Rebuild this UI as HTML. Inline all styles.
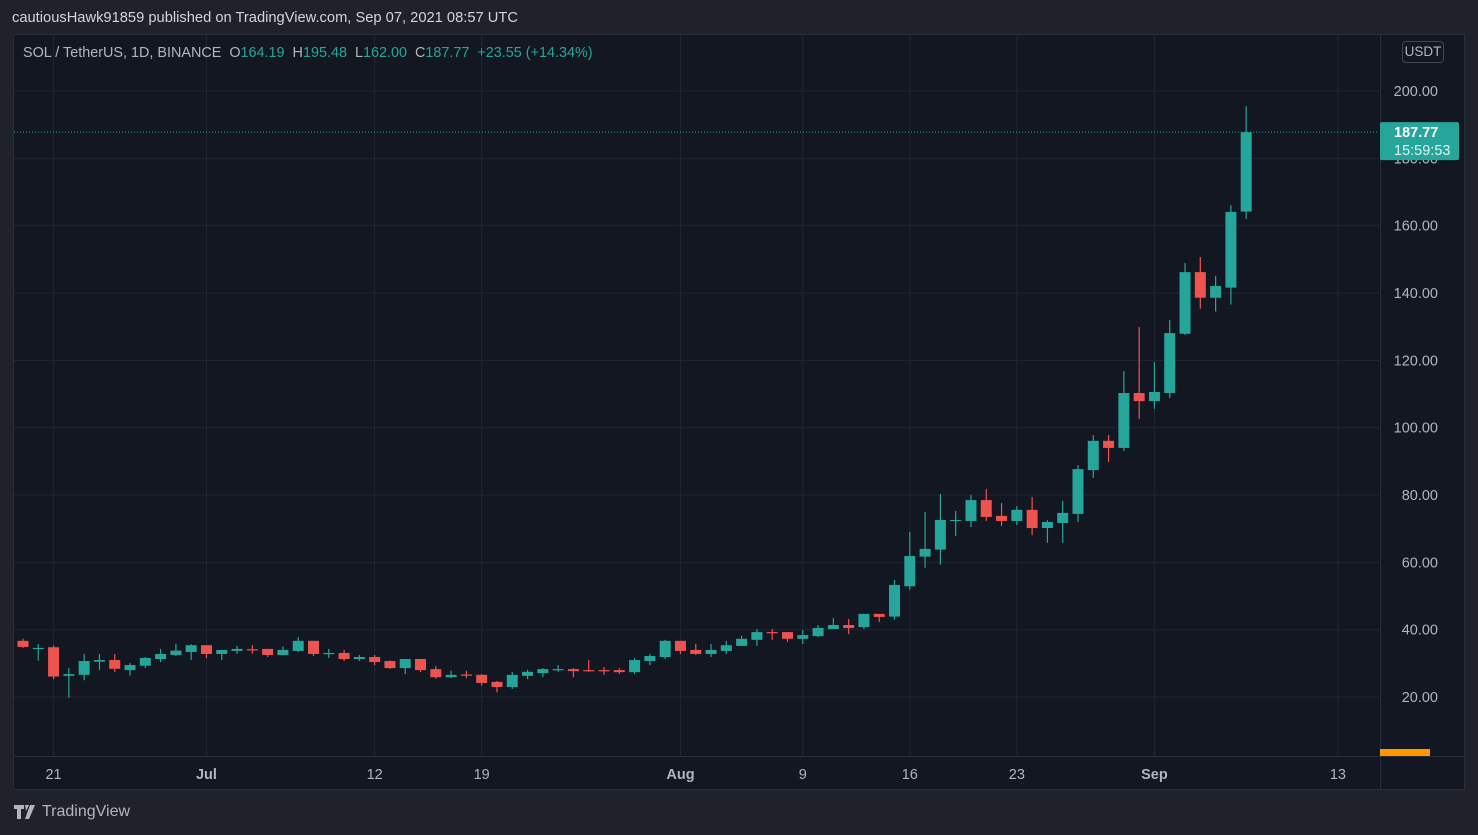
<!DOCTYPE html>
<html><head><meta charset="utf-8"><style>
html,body{margin:0;padding:0;background:#1f222b;width:1478px;height:835px;overflow:hidden;font-family:"Liberation Sans",sans-serif;}
#hdr{position:absolute;left:12px;top:10px;font-size:14.7px;color:#d1d4dc;white-space:nowrap;}
#pane{position:absolute;left:13px;top:34px;width:1452px;height:756px;background:#131722;border:1px solid #2a2e39;box-sizing:border-box;}
#legend{position:absolute;left:23px;top:45px;font-size:14.4px;color:#b2b5be;white-space:nowrap;}
#legend .v{color:#26a69a;}
#usdt{position:absolute;left:1402px;top:41px;width:42px;height:22px;border:1px solid #434651;border-radius:4px;box-sizing:border-box;color:#b2b5be;font-size:13.5px;text-align:center;line-height:20px;}
#logo{position:absolute;left:14px;top:803px;font-size:16px;color:#b2b5be;display:flex;align-items:center;gap:4px;}
svg{position:absolute;left:0;top:0;}
</style></head><body>
<div id="hdr">cautiousHawk91859 published on TradingView.com, Sep 07, 2021 08:57 UTC</div>
<div id="pane"></div>
<svg id="chart" width="1478" height="835"></svg>
<div id="legend">SOL / TetherUS, 1D, BINANCE&nbsp; O<span class="v">164.19</span>&nbsp; H<span class="v">195.48</span>&nbsp; L<span class="v">162.00</span>&nbsp; C<span class="v">187.77</span>&nbsp; <span class="v">+23.55 (+14.34%)</span></div>
<div id="usdt">USDT</div>
<div id="logo"><svg width="24" height="14" style="position:static" viewBox="0 0 24 14"><path d="M0 0h10v4H7v10H3V4H0z M11 0h4l-3 6z M16 0h5l-6 14h-4z" fill="#b2b5be"/></svg><span>TradingView</span></div>
<script>
const opens  = [39.5,36.7,34.4,34.8,26.3,26.6,30.5,31.0,28.0,29.3,31.3,32.5,33.4,35.4,32.8,33.7,34.2,34.3,32.5,33.7,36.7,32.9,33.1,31.3,31.9,30.7,28.6,31.3,28.3,25.9,26.7,26.6,24.5,23.0,26.3,27.1,28.1,28.3,28.0,28.0,28.0,27.4,30.7,31.9,36.7,34.0,32.8,33.7,35.2,37.0,39.3,39.3,37.3,38.1,40.2,41.4,40.8,44.7,43.9,52.9,61.7,63.8,72.4,72.3,78.5,73.8,72.3,75.6,70.2,71.7,74.4,87.4,96.1,94.0,110.3,107.9,110.3,127.9,146.2,138.6,141.6,164.19];
const highs  = [40.5,37.3,35.7,35.3,28.6,32.8,32.8,32.8,30.1,31.9,34.3,35.8,35.7,35.4,34.0,35.2,35.4,34.3,35.0,37.8,36.7,34.3,34.0,32.5,32.5,30.9,31.3,31.3,29.2,27.8,27.8,26.8,24.8,27.5,28.1,28.6,29.5,28.6,31.0,28.9,28.6,31.6,32.8,37.0,36.7,35.8,35.8,36.7,38.2,40.2,40.2,39.3,39.9,41.4,43.5,43.2,44.7,44.7,54.8,69.0,75.0,80.3,75.3,80.0,81.8,77.6,76.7,79.4,72.6,78.2,88.9,97.8,97.8,116.8,129.9,119.5,132.0,148.9,150.7,145.1,166.1,195.48];
const lows   = [36.0,34.6,30.8,25.3,19.8,25.0,28.0,27.4,26.4,28.6,30.4,32.2,31.0,31.6,31.0,32.8,32.9,31.9,32.5,33.4,32.2,31.6,30.7,30.7,29.5,28.4,26.8,27.4,25.4,25.6,25.6,23.4,21.4,22.4,25.3,25.9,27.5,25.9,27.5,26.6,26.9,26.8,29.5,31.3,32.8,32.5,31.9,32.8,35.2,35.2,37.0,36.4,35.8,37.8,40.2,38.7,40.2,42.3,43.0,51.9,58.4,59.3,67.8,70.5,72.3,70.8,71.1,68.1,65.8,65.8,72.0,85.1,89.8,93.1,102.6,105.6,108.8,127.5,135.3,134.5,136.6,162.0];
const closes = [36.5,34.9,34.6,26.1,26.8,30.7,31.0,28.4,29.5,31.6,32.8,33.8,35.4,32.8,34.0,34.3,34.0,32.5,34.0,36.7,32.8,33.1,31.3,31.9,30.4,28.6,31.3,28.0,25.9,26.6,26.4,24.2,23.0,26.6,27.5,28.3,28.3,27.7,27.8,27.8,27.4,31.0,32.2,36.7,33.7,32.8,34.0,35.4,37.3,39.3,39.1,37.3,38.4,40.5,41.4,40.5,44.7,43.8,53.3,61.9,64.0,72.6,72.6,78.5,73.5,72.3,75.6,70.2,72.0,74.7,87.7,96.1,94.0,110.3,107.9,110.6,128.1,146.2,138.6,142.1,164.1,187.77];
const priceTicks = [20,40,60,80,100,120,140,160,180,200];
const dateLabels = ["21","Jul","12","19","Aug","9","16","23","Sep","13"];
const dateIdx    = [3,13,24,31,44,52,59,66,75,87];
const boldLabel  = [false,true,false,false,true,false,false,false,true,false];
const lastPrice = 187.77;

const NS="http://www.w3.org/2000/svg";
const svg=document.getElementById('chart');
const PL=14, PR=1379, PT=35, PB=756;
const y=p=>91+(200-p)*3.367;
const x=i=>7.7+i*15.29;
function el(t,a){const e=document.createElementNS(NS,t);for(const k in a)e.setAttribute(k,a[k]);return e;}
const clip=el('clipPath',{id:'cp'});clip.appendChild(el('rect',{x:PL,y:PT,width:PR-PL,height:PB-PT}));svg.appendChild(clip);
const grid=el('g',{});svg.appendChild(grid);
priceTicks.forEach(p=>{const l=el('line',{x1:PL,x2:PR,y1:y(p),y2:y(p),stroke:'#222633','stroke-width':1});
grid.appendChild(l);
const t=el('text',{x:1438,y:y(p)+5,'text-anchor':'end',fill:'#b2b5be','font-size':14.5,'font-family':'Liberation Sans, sans-serif'});t.textContent=p.toFixed(2);
svg.appendChild(t);});
dateIdx.forEach((d,k)=>{const xx=x(d);const l=el('line',{x1:xx,x2:xx,y1:PT,y2:PB,stroke:'#222633','stroke-width':1});
grid.appendChild(l);
const t=el('text',{x:xx,y:779,'text-anchor':'middle',fill:'#b2b5be','font-size':14.5,'font-weight':boldLabel[k]?'bold':'normal','font-family':'Liberation Sans, sans-serif'});t.textContent=dateLabels[k];
svg.appendChild(t);});
svg.appendChild(el('line',{x1:1380.5,x2:1380.5,y1:PT,y2:790,stroke:'#2a2e39'}));
svg.appendChild(el('line',{x1:PL,x2:1465,y1:756.5,y2:756.5,stroke:'#2a2e39'}));
const cg=el('g',{'clip-path':'url(#cp)'});svg.appendChild(cg);
for(let i=0;i<opens.length;i++){const up=closes[i]>=opens[i];const c=up?'#26a69a':'#ef5350';const xx=x(i);
const w=el('line',{x1:xx,x2:xx,y1:y(highs[i]),y2:y(lows[i]),stroke:c,'stroke-width':1.2});
cg.appendChild(w);
const top=y(Math.max(opens[i],closes[i])),bot=y(Math.min(opens[i],closes[i]));
const b=el('rect',{x:xx-5.5,y:top,width:11,height:Math.max(1.2,bot-top),fill:c});
cg.appendChild(b);}
const pl=el('line',{x1:PL,x2:PR,y1:y(lastPrice),y2:y(lastPrice),stroke:'#26a69a','stroke-width':1,'stroke-dasharray':'1 2'});
svg.appendChild(pl);
const lb=el('rect',{x:1380,y:y(lastPrice)-10,width:79,height:38,rx:2,fill:'#26a69a'});
svg.appendChild(lb);
const t1=el('text',{x:1394,y:y(lastPrice)+5,fill:'#fff','font-size':14.5,'font-weight':'bold','font-family':'Liberation Sans, sans-serif'});t1.textContent=lastPrice.toFixed(2);
svg.appendChild(t1);
const t2=el('text',{x:1394,y:y(lastPrice)+23,fill:'#e0f2f1','font-size':14.5,'font-family':'Liberation Sans, sans-serif'});t2.textContent='15:59:53';
svg.appendChild(t2);
const ob=el('rect',{x:1380,y:749,width:50,height:7,fill:'#ff9800'});
svg.appendChild(ob);
</script>
</body></html>
